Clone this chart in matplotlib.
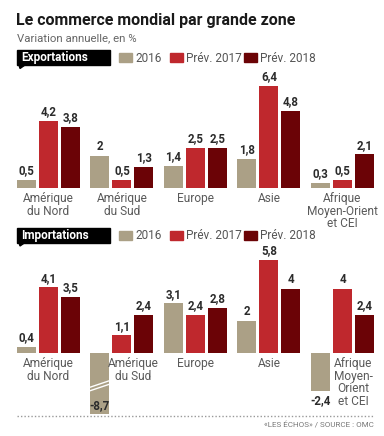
import matplotlib.pyplot as plt
from matplotlib.patches import Rectangle, Polygon
from matplotlib.lines import Line2D

plt.rcParams['font.family'] = ['Roboto', 'DejaVu Sans']

# données
zones_exp = ['Amérique\ndu Nord', 'Amérique\ndu Sud', 'Europe', 'Asie', 'Afrique\nMoyen-Orient\net CEI']
zones_imp = ['Amérique\ndu Nord', 'Amérique\ndu Sud', 'Europe', 'Asie', 'Afrique\nMoyen-\nOrient\net CEI']
series = ['2016', 'Prév. 2017', 'Prév. 2018']
colors = ['#aba086', '#bf282d', '#6b0306']

exp_2016 = [0.5, 2, 1.4, 1.8, 0.3]
exp_2017 = [4.2, 0.5, 2.5, 6.4, 0.5]
exp_2018 = [3.8, 1.3, 2.5, 4.8, 2.1]

imp_2016 = [0.4, -8.7, 3.1, 2, -2.4]
imp_2017 = [4.1, 1.1, 2.4, 5.8, 4]
imp_2018 = [3.5, 2.4, 2.8, 4, 2.4]

W, H = 384, 436
fig = plt.figure(figsize=(W / 100, H / 100), dpi=100)
fig.patch.set_facecolor('white')

def fx(px):
    return px / W

def fy(py):
    return 1 - py / H

def fmt(v):
    return f'{v:g}'.replace('.', ',')

PX_UNIT = 16.0      # pixels par point de %
PITCH = 22 / 73.5
BW = 19 / 73.5
CLIP = -3.8         # barre tronquée
XLIM = (-48.5 / 73.5, (W - 48.5) / 73.5)

def panel(top_px, base_px, bot_px, data, zones, label_under_neg):
    ax = fig.add_axes([0, fy(bot_px), 1, (bot_px - top_px) / H])
    ax.set_xlim(*XLIM)
    ax.set_ylim(-(bot_px - base_px) / PX_UNIT, (base_px - top_px) / PX_UNIT)
    ax.axis('off')
    for k, vals in enumerate(data):
        for i, v in enumerate(vals):
            x = i + (k - 1) * PITCH
            h = max(v, CLIP)
            ax.bar(x, h, width=BW, color=colors[k], linewidth=0)
            if v >= 0:
                ax.annotate(fmt(v), (x, h), xytext=(0, 2), textcoords='offset points',
                            ha='center', va='bottom', fontsize=8.3, fontweight='bold', color='#2b2b2b')
            elif v < CLIP:
                ax.annotate(fmt(v), (x, h), xytext=(0, 1), textcoords='offset points',
                            ha='center', va='bottom', fontsize=8.3, fontweight='bold', color='#2b2b2b')
                # marque de coupure
                for dy in (0, 0.22):
                    ax.add_line(Line2D([x - BW / 2, x + BW / 2], [-2.35 + dy, -1.95 + dy],
                                       color='white', lw=1.0))
            else:
                ax.annotate(fmt(v), (x, h), xytext=(0, -2), textcoords='offset points',
                            ha='center', va='top', fontsize=8.3, fontweight='bold', color='#2b2b2b')
    for i, z in enumerate(zones):
        neg = data[0][i] < 0 and label_under_neg
        xc = i + 0.5 * PITCH if neg else i
        ax.annotate(z, (xc, 0), xytext=(0, -3), textcoords='offset points',
                    ha='center', va='top', fontsize=8.6, color='#5a5a5a', linespacing=0.95)
    return ax

panel(70, 188, 230, [exp_2016, exp_2017, exp_2018], zones_exp, False)
panel(248, 353, 420, [imp_2016, imp_2017, imp_2018], zones_imp, True)

# titres
fig.text(fx(16), fy(20), 'Le commerce mondial par grande zone', fontsize=11.5,
         fontweight='bold', color='#1a1a1a', va='center', ha='left')
fig.text(fx(17), fy(38), 'Variation annuelle, en %', fontsize=8.2,
         color='#666666', va='center', ha='left')

def header(yc, text):
    fig.patches.append(Rectangle((fx(17), fy(yc + 7.5)), fx(93), 15 / H,
                                 transform=fig.transFigure, color='black', zorder=1))
    fig.patches.append(Polygon([(fx(19), fy(yc + 7)), (fx(25), fy(yc + 7)), (fx(20), fy(yc + 10.5))],
                               closed=True, transform=fig.transFigure, color='black', zorder=1))
    fig.text(fx(21), fy(yc), text, fontsize=8.5, fontweight='bold', color='white',
             va='center', ha='left', zorder=2)
    xs = [119, 170, 244]
    for k in range(3):
        fig.patches.append(Rectangle((fx(xs[k]), fy(yc + 4.5)), fx(13), 9 / H,
                                     transform=fig.transFigure, color=colors[k], zorder=1))
        fig.text(fx(xs[k] + 16), fy(yc), series[k], fontsize=8.5, color='#555555',
                 va='center', ha='left')

header(58, 'Exportations')
header(235.5, 'Importations')

fig.add_artist(Line2D([fx(17), fx(374)], [fy(416), fy(416)], transform=fig.transFigure,
                      color='#999999', lw=1, linestyle=(0, (1, 1.5))))
fig.text(fx(374), fy(425), '«LES ÉCHOS» / SOURCE : OMC', fontsize=5.8, color='#777777',
         ha='right', va='center')

fig.savefig('out.png', dpi=100)
